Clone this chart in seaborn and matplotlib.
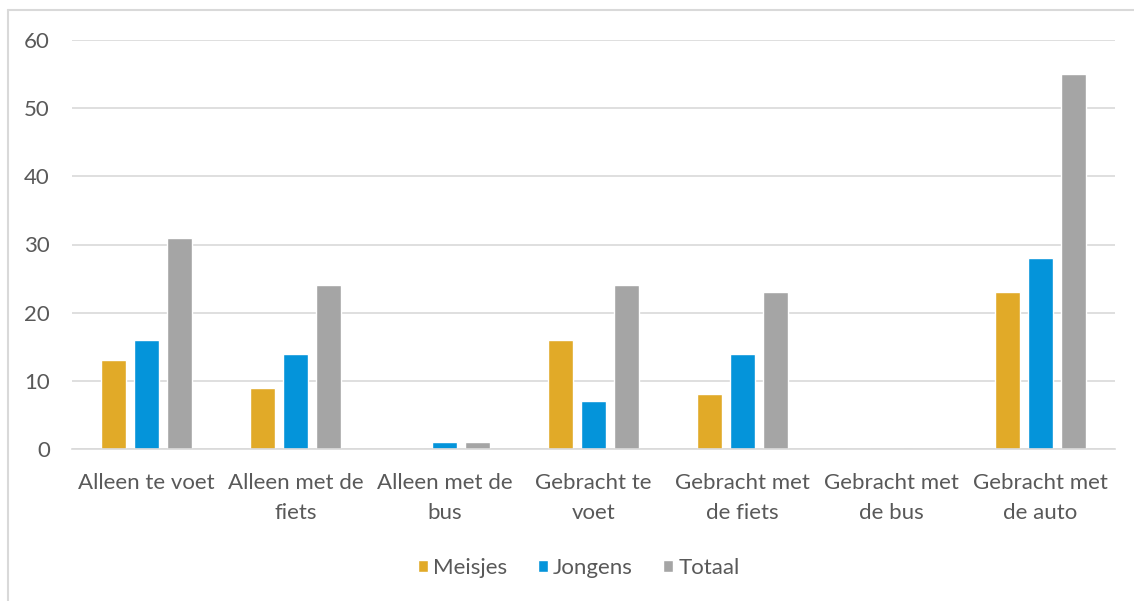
import matplotlib
matplotlib.use("Agg")
import matplotlib.pyplot as plt
from matplotlib.lines import Line2D
import seaborn as sns
import pandas as pd

categories = ["Alleen te voet", "Alleen met de\nfiets", "Alleen met de\nbus",
              "Gebracht te\nvoet", "Gebracht met\nde fiets", "Gebracht met\nde bus",
              "Gebracht met\nde auto"]
meisjes = [13, 9, 0, 16, 8, 0, 23]
jongens = [16, 14, 1, 7, 14, 0, 28]
totaal = [31, 24, 1, 24, 23, 0, 55]
series = ["Meisjes", "Jongens", "Totaal"]
colors = ["#E1AA28", "#0494DA", "#A5A5A5"]
yticks = [0, 10, 20, 30, 40, 50, 60]

rows = []
for s, vals in zip(series, [meisjes, jongens, totaal]):
    for c, v in zip(categories, vals):
        rows.append({"cat": c, "serie": s, "val": v})
df = pd.DataFrame(rows)

sns.set_theme(style="white")
plt.rcParams['font.family'] = ['Lato', 'DejaVu Sans']

FS = 16
fig = plt.figure(figsize=(11.34, 6.01), dpi=100)
ax = fig.add_axes([72/1134, 1-449/601, (1115-72)/1134, (449-40)/601])

sns.barplot(data=df, x="cat", y="val", hue="serie", order=categories,
            hue_order=series, palette=colors, width=0.664, gap=0.24,
            saturation=1, ax=ax, legend=True)

ax.set_ylim(0, 60)
ax.set_xlim(-0.5, len(categories) - 0.5)
ax.set_yticks(yticks)
ax.set_yticklabels([str(t) for t in yticks])
ax.set_xlabel("")
ax.set_ylabel("")
ax.yaxis.grid(True, color="#D9D9D9", linewidth=1.2)
ax.set_axisbelow(True)
for side in ["top", "right", "left"]:
    ax.spines[side].set_visible(False)
ax.spines["bottom"].set_color("#D9D9D9")
ax.spines["bottom"].set_linewidth(1.2)
ax.tick_params(axis="both", length=0, labelsize=FS, labelcolor="#595959")
ax.tick_params(axis="y", pad=16)
ax.tick_params(axis="x", pad=17)
for lbl in ax.get_xticklabels():
    lbl.set_linespacing(1.65)

leg = ax.legend(loc="center", bbox_to_anchor=(0.486, -(568 - 449) / 409.0), ncol=3,
                frameon=False, fontsize=FS, handlelength=0.45, handleheight=0.45,
                handletextpad=0.25, columnspacing=1.35)
for t in leg.get_texts():
    t.set_color("#595959")

# outer border (top and left only, as in cropped screenshot)
fig.add_artist(Line2D([8/1134, 8/1134], [0, 1 - 10/601], transform=fig.transFigure,
                      color="#D9D9D9", linewidth=1.5))
fig.add_artist(Line2D([8/1134, 1], [1 - 10/601, 1 - 10/601], transform=fig.transFigure,
                      color="#D9D9D9", linewidth=1.5))

fig.savefig("out.png", dpi=100)
